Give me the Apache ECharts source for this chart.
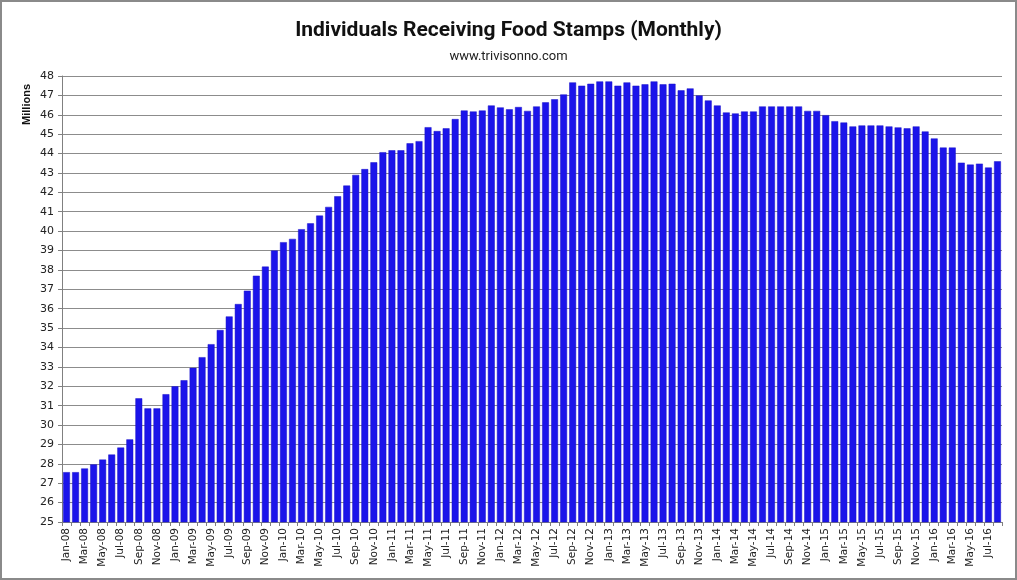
<!DOCTYPE html>
<html><head><meta charset="utf-8">
<script src="https://cdn.jsdelivr.net/npm/echarts@6/dist/echarts.min.js"></script>
<style>
html,body{margin:0;padding:0;background:#fff;}
#c{width:1017px;height:580px;box-sizing:border-box;border:2px solid #8a8a8a;}
</style></head>
<body><div id="c"></div>
<script>
const years = ['08','09','10','11','12','13','14','15','16'];
const monthNames = ['Jan','Feb','Mar','Apr','May','Jun','Jul','Aug','Sep','Oct','Nov','Dec'];
const v2008 = [27.57, 27.57, 27.76, 27.97, 28.22, 28.48, 28.84, 29.26, 31.38, 30.86, 30.86, 31.59];
const v2009 = [32.0, 32.31, 32.95, 33.5, 34.17, 34.9, 35.6, 36.24, 36.93, 37.7, 38.17, 39.0];
const v2010 = [39.43, 39.6, 40.1, 40.4, 40.8, 41.25, 41.8, 42.35, 42.9, 43.2, 43.55, 44.07];
const v2011 = [44.17, 44.17, 44.53, 44.64, 45.36, 45.16, 45.3, 45.78, 46.22, 46.17, 46.22, 46.48];
const v2012 = [46.38, 46.28, 46.4, 46.2, 46.43, 46.64, 46.8, 47.05, 47.67, 47.5, 47.6, 47.72];
const v2013 = [47.72, 47.5, 47.67, 47.5, 47.57, 47.72, 47.57, 47.6, 47.26, 47.36, 47.0, 46.74];
const v2014 = [46.48, 46.12, 46.07, 46.17, 46.17, 46.43, 46.43, 46.43, 46.43, 46.43, 46.2, 46.2];
const v2015 = [45.98, 45.67, 45.6, 45.4, 45.45, 45.45, 45.45, 45.4, 45.35, 45.3, 45.4, 45.14];
const v2016 = [44.78, 44.31, 44.31, 43.53, 43.43, 43.48, 43.28, 43.6];
const yearValues = [v2008, v2009, v2010, v2011, v2012, v2013, v2014, v2015, v2016];

const categories = [];
const values = [];
yearValues.forEach((arr, yi) => {
  arr.forEach((v, mi) => {
    categories.push(monthNames[mi] + '-' + years[yi]);
    values.push(v);
  });
});

const chart = echarts.init(document.getElementById('c'));
chart.setOption({
  animation: false,
  backgroundColor: '#fff',
  title: [{
    text: 'Individuals Receiving Food Stamps (Monthly)',
    left: 'center', top: 13,
    textStyle: {fontFamily: 'Roboto', fontWeight: 'bold', fontSize: 21, color: '#111'}
  }, {
    text: 'www.trivisonno.com',
    left: 'center', top: 43,
    textStyle: {fontFamily: 'Roboto', fontWeight: 'normal', fontSize: 13, color: '#222'}
  }],
  graphic: [{
    type: 'text', left: 19, top: 82, rotation: Math.PI / 2,
    style: {text: 'Millions', font: 'bold 11px "Liberation Sans"', fill: '#111'}
  }],
  grid: {left: 60, right: 13, top: 74, bottom: 56},
  xAxis: {
    type: 'category', data: categories,
    axisLine: {lineStyle: {color: '#808080'}},
    axisTick: {show: true, interval: 0, length: 4, lineStyle: {color: '#808080'}},
    axisLabel: {interval: 1, rotate: 90, fontFamily: 'DejaVu Sans', fontSize: 10.5, color: '#222', margin: 6},
    splitLine: {show: false}
  },
  yAxis: {
    type: 'value', min: 25, max: 48, interval: 1,
    axisLine: {show: true, lineStyle: {color: '#808080'}},
    axisTick: {show: true, length: 4, lineStyle: {color: '#808080'}},
    axisLabel: {fontFamily: 'DejaVu Sans', fontSize: 11, color: '#222', margin: 8},
    splitLine: {lineStyle: {color: '#8c8c8c', width: 1}}
  },
  series: [{
    type: 'bar', data: values,
    barCategoryGap: '24%',
    itemStyle: {color: '#1b14ea', borderColor: '#1a12c8', borderWidth: 0.5}
  }]
});
</script></body></html>
